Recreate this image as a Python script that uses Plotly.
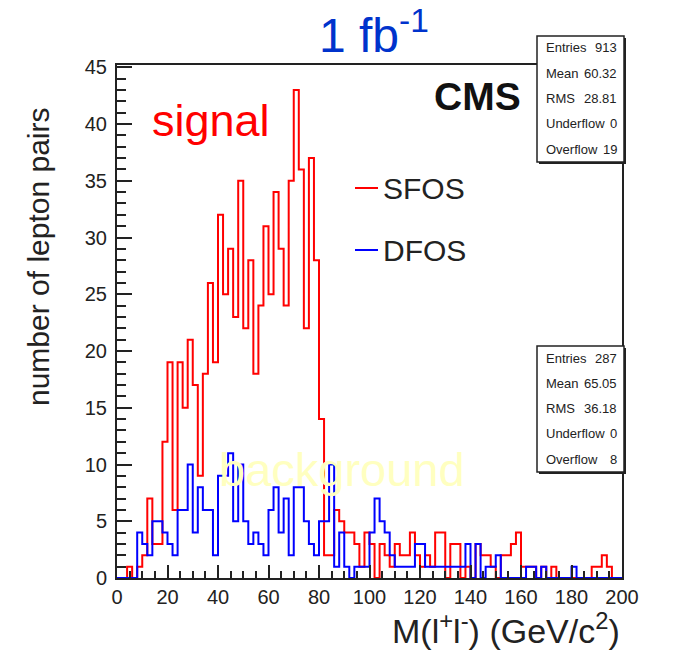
import plotly.graph_objects as go

# Dilepton invariant mass, 2 GeV bins from 0 to 200
bin_width = 2
n_bins = 100

sfos_counts = [
    0, 0, 1, 0, 1, 2, 7, 3, 3, 12,
    19, 6, 19, 15, 21, 17, 9, 18, 26, 19,
    32, 25, 29, 23, 35, 22, 28, 18, 24, 31,
    25, 34, 29, 24, 35, 43, 36, 22, 37, 28,
    14, 2, 2, 6, 5, 4, 4, 3, 1, 4,
    3, 0, 3, 2, 1, 3, 2, 2, 4, 2,
    1, 2, 1, 4, 4, 0, 3, 3, 0, 1,
    0, 3, 2, 2, 1, 0, 2, 2, 3, 4,
    1, 1, 1, 0, 1, 0, 1, 0, 0, 0,
    0, 0, 0, 0, 1, 1, 2, 1, 0, 0,
]

dfos_counts = [
    0, 0, 0, 0, 4, 3, 2, 5, 5, 4,
    3, 2, 6, 6, 10, 4, 8, 6, 6, 2,
    9, 9, 11, 5, 10, 5, 3, 4, 3, 2,
    6, 8, 4, 7, 2, 8, 8, 5, 3, 2,
    5, 5, 10, 1, 4, 1, 0, 1, 1, 1,
    4, 7, 5, 4, 2, 1, 1, 1, 1, 3,
    3, 1, 1, 1, 1, 1, 1, 1, 1, 3,
    0, 3, 0, 1, 1, 2, 0, 0, 0, 0,
    0, 1, 1, 0, 1, 0, 0, 0, 0, 0,
    1, 0, 0, 0, 0, 0, 0, 0, 0, 0,
]

sfos_stats = [("Entries", "913"), ("Mean", "60.32"), ("RMS", "28.81"),
              ("Underflow", "0"), ("Overflow", "19")]
dfos_stats = [("Entries", "287"), ("Mean", "65.05"), ("RMS", "36.18"),
              ("Underflow", "0"), ("Overflow", "8")]

x_ticks = list(range(0, 201, 20))
y_ticks = list(range(0, 46, 5))

W, H = 680, 654
L, R, T, B = 117, 58, 65, 76
PW, PH = W - L - R, H - T - B


def step_outline(counts):
    xs, ys = [0], [0]
    for i, c in enumerate(counts):
        xs += [i * bin_width, (i + 1) * bin_width]
        ys += [c, c]
    xs.append(n_bins * bin_width)
    ys.append(0)
    return xs, ys


def px(x):
    return (x - L) / PW


def py(y):
    return (H - B - y) / PH


fig = go.Figure()
for counts, color in [(sfos_counts, "#ff0000"), (dfos_counts, "#0000ff")]:
    xs, ys = step_outline(counts)
    fig.add_trace(go.Scatter(x=xs, y=ys, mode="lines",
                             line=dict(color=color, width=2, shape="linear"),
                             hoverinfo="skip", showlegend=False))

font_main = "Liberation Sans, Arial, sans-serif"
font_narrow = "Liberation Sans Narrow, Arial Narrow, Liberation Sans, sans-serif"

fig.update_layout(
    width=W, height=H,
    margin=dict(l=L, r=R, t=T, b=B),
    paper_bgcolor="white", plot_bgcolor="white",
    font=dict(family=font_main, color="#1a1a1a"),
)
fig.update_xaxes(
    range=[0, 200], tickvals=x_ticks, ticks="inside", ticklen=13, tickwidth=1.5,
    tickcolor="#222", showline=True, linecolor="#222", linewidth=2, mirror=True,
    showgrid=False, zeroline=False, tickfont=dict(size=20, color="#222"),
    minor=dict(dtick=5, ticks="inside", ticklen=7, tickcolor="#222", tickwidth=1.5),
)
fig.update_yaxes(
    range=[0, 45.2], tickvals=y_ticks, ticks="inside", ticklen=15, tickwidth=1.5,
    tickcolor="#222", showline=True, linecolor="#222", linewidth=2, mirror=True,
    showgrid=False, zeroline=False, tickfont=dict(size=20, color="#222"),
    ticklabelstandoff=4,
    minor=dict(dtick=1, ticks="inside", ticklen=9, tickcolor="#222", tickwidth=1.5),
)

ann = []
shapes = []


def label(text, x, y, size, color, xanchor="center", angle=0, family=None):
    f = dict(size=size, color=color)
    if family:
        f["family"] = family
    ann.append(dict(text=text, x=px(x), y=py(y), xref="paper", yref="paper",
                    xanchor=xanchor, yanchor="middle", showarrow=False,
                    textangle=angle, font=f))


# axis titles
label("number of lepton pairs", 38, 257, 30, "#222", angle=-90)
label("M(l<sup>+</sup>l<sup>-</sup>) (GeV/c<sup>2</sup>)", 622, 628, 34, "#222", xanchor="right")

# luminosity and annotations
label("1 fb<sup>-1</sup>", 374, 32, 48, "#0033cc")
label("signal", 211, 120, 45, "#ff0000")
label("<b>CMS</b>", 477, 96, 39, "#111")
label("background", 342, 469, 47, "#ffffc0")

# legend entries
for name, color, yy in [("SFOS", "#ff0000", 188), ("DFOS", "#0000ff", 250)]:
    shapes.append(dict(type="line", xref="paper", yref="paper", x0=px(355), x1=px(378),
                       y0=py(yy), y1=py(yy), line=dict(color=color, width=2)))
    label(name, 381, yy, 30, "#222", xanchor="left")


def stats_box(rows, top):
    x0, x1 = 537, 624
    bottom = top + 126
    shapes.append(dict(type="rect", xref="paper", yref="paper", layer="above",
                       x0=px(x0 + 2), x1=px(x1 + 2), y0=py(bottom + 2), y1=py(top + 2),
                       fillcolor="#222", line=dict(width=0)))
    shapes.append(dict(type="rect", xref="paper", yref="paper", layer="above",
                       x0=px(x0), x1=px(x1), y0=py(bottom), y1=py(top),
                       fillcolor="white", line=dict(color="#222", width=1.5)))
    for k, (name, val) in enumerate(rows):
        yy = top + 12 + 25.3 * k
        label(name, x0 + 7, yy, 13, "#222", xanchor="left", family=font_narrow)
        label(val, x1 - 5, yy, 13, "#222", xanchor="right", family=font_narrow)


stats_box(sfos_stats, 36)
stats_box(dfos_stats, 346)

fig.update_layout(annotations=ann, shapes=shapes)
fig.write_html("out.html")
